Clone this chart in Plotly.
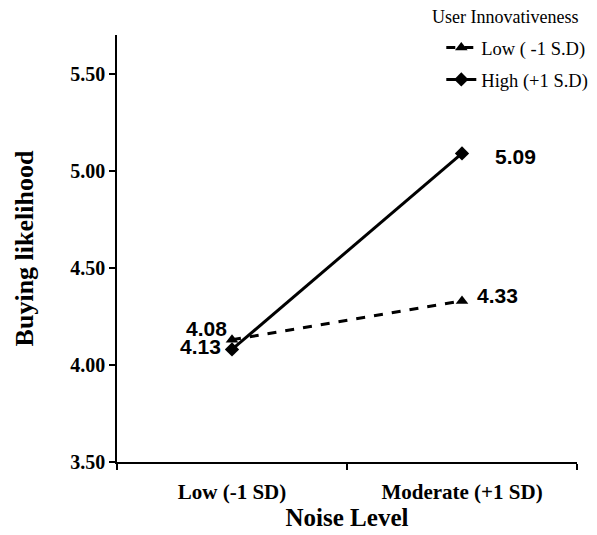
import plotly.graph_objects as go

categories = ["Low (-1 SD)", "Moderate (+1 SD)"]
low_values = [4.13, 4.33]
high_values = [4.08, 5.09]
low_name = "Low ( -1 S.D)"
high_name = "High (+1 S.D)"
legend_title = "User Innovativeness"
y_ticks = [3.50, 4.00, 4.50, 5.00, 5.50]

fig = go.Figure()
fig.add_trace(go.Scatter(
    x=categories, y=low_values, name=low_name, mode="lines+markers",
    line=dict(color="black", width=3, dash="dash"),
    marker=dict(symbol="triangle-up", size=11, color="black"),
    legendgroup="a",
))
fig.add_trace(go.Scatter(
    x=categories, y=high_values, name=high_name, mode="lines+markers",
    line=dict(color="black", width=3),
    marker=dict(symbol="diamond", size=11, color="black"),
    legendgroup="b",
))

lab_font = dict(family="Arial, Liberation Sans", size=21, color="black")
# labels placed as in the reference picture
fig.add_annotation(x=categories[0], y=high_values[0], text=f"<b>{high_values[0]:.2f}</b>",
                   showarrow=False, xanchor="right", xshift=-4, yshift=21, font=lab_font, borderpad=0)
fig.add_annotation(x=categories[0], y=low_values[0], text=f"<b>{low_values[0]:.2f}</b>",
                   showarrow=False, xanchor="right", xshift=-10, yshift=-7, font=lab_font, borderpad=0)
fig.add_annotation(x=categories[1], y=low_values[1], text=f"<b>{low_values[1]:.2f}</b>",
                   showarrow=False, xanchor="left", xshift=13, yshift=5, font=lab_font)
fig.add_annotation(x=categories[1], y=high_values[1], text=f"<b>{high_values[1]:.2f}</b>",
                   showarrow=False, xanchor="left", xshift=31, yshift=-3, font=lab_font)
# legend title
fig.add_annotation(xref="paper", yref="paper", x=0.68, y=1.042, xanchor="left", yanchor="middle",
                   text=legend_title, showarrow=False,
                   font=dict(family="Times New Roman, Liberation Serif", size=18, color="black"))

fig.update_layout(
    width=597, height=535,
    margin=dict(l=109, r=28, t=27, b=81, autoexpand=False),
    paper_bgcolor="white", plot_bgcolor="white",
    font=dict(family="Times New Roman, Liberation Serif", color="black"),
    showlegend=True,
    legend=dict(
        font=dict(size=18.5), x=0.705, xanchor="left", y=1.0144, yanchor="top",
        tracegroupgap=5, bgcolor="rgba(0,0,0,0)",
    ),
    xaxis=dict(
        type="category", range=[-0.5, 1.5], tickson="boundaries",
        ticks="outside", ticklen=6, tickcolor="black", tickwidth=1.5,
        showline=True, linecolor="black", linewidth=1.5, showgrid=False,
        ticklabelstandoff=10,
        tickfont=dict(size=21), title=dict(text="<b>Noise Level</b>", font=dict(size=25), standoff=6),
    ),
    yaxis=dict(
        range=[3.5, 5.7], tickvals=y_ticks, ticktext=[f"<b>{v:.2f}</b>" for v in y_ticks],
        ticks="outside", ticklen=6, tickcolor="black", tickwidth=1.5,
        showline=True, linecolor="black", linewidth=1.5, showgrid=False, zeroline=False,
        tickfont=dict(size=20), title=dict(text="<b>Buying likelihood</b>", font=dict(size=26), standoff=29),
    ),
)
fig.update_xaxes(ticktext=[f"<b>{c}</b>" for c in categories], tickvals=categories)
fig.write_html("out.html")
